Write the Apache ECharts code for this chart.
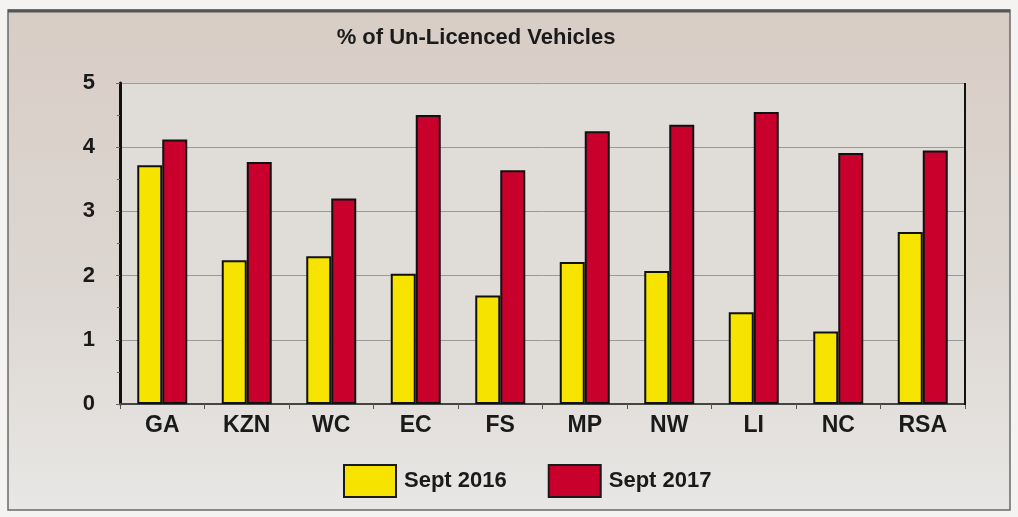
<!DOCTYPE html>
<html><head><meta charset="utf-8">
<script src="https://cdn.jsdelivr.net/npm/echarts@6/dist/echarts.min.js"></script>
<style>html,body{margin:0;padding:0;background:#f4f3f1;}#c{width:1018px;height:517px;}</style>
</head><body><div id="c"></div>
<script>
const categories = ['GA','KZN','WC','EC','FS','MP','NW','LI','NC','RSA'];
const sept2016 = [3.72, 2.24, 2.30, 2.03, 1.69, 2.21, 2.07, 1.43, 1.13, 2.68];
const sept2017 = [4.12, 3.77, 3.20, 4.50, 3.64, 4.25, 4.35, 4.55, 3.91, 3.95];
const yTicks = [0, 1, 2, 3, 4, 5];
const titleText = '% of Un-Licenced Vehicles';
const seriesNames = ['Sept 2016', 'Sept 2017'];

const chart = echarts.init(document.getElementById('c'), null, {renderer: 'canvas'});
const font = 'Liberation Sans, Arial, sans-serif';
chart.setOption({
  backgroundColor: 'transparent',
  animation: false,
  graphic: [
    {type: 'rect', z: -10, shape: {x: 8, y: 10, width: 1002, height: 500},
     style: {fill: new echarts.graphic.LinearGradient(0, 0, 0, 1, [
       {offset: 0, color: '#d8cdc5'}, {offset: 0.55, color: '#dcd6d1'}, {offset: 1, color: '#e8e7e5'}]),
       stroke: '#6a6a6a', lineWidth: 1.5}},
    {type: 'line', z: -9, shape: {x1: 8, y1: 11, x2: 1010, y2: 11}, style: {stroke: '#555', lineWidth: 3}},
    {type: 'rect', z: -8, shape: {x: 120, y: 83, width: 845, height: 321},
     style: {fill: '#e0dcd8'}},
    {type: 'line', z: 5, shape: {x1: 965, y1: 83, x2: 965, y2: 405}, style: {stroke: '#111', lineWidth: 2}}
  ],
  title: {text: titleText, left: 471, top: 22, textAlign: 'center',
    textStyle: {fontFamily: font, fontSize: 22, fontWeight: 'bold', color: '#1a1a1a'}},
  legend: {data: seriesNames, top: 464, left: 343, padding: 0, icon: 'rect', itemWidth: 52, itemHeight: 32, itemGap: 41,
    textStyle: {fontFamily: font, fontSize: 22, fontWeight: 'bold', color: '#1a1a1a', padding: [0,0,0,3]},
    itemStyle: {borderColor: '#1a1a1a', borderWidth: 2}},
  grid: {left: 120, right: 53, top: 83, bottom: 113},
  xAxis: {type: 'category', data: categories,
    axisLine: {lineStyle: {color: '#444', width: 2}},
    axisTick: {show: true, length: 5, lineStyle: {color: '#555'}},
    axisLabel: {fontFamily: font, fontSize: 23, fontWeight: 'bold', color: '#1a1a1a', margin: 10}},
  yAxis: {type: 'value', min: 0, max: 5, interval: 1,
    axisLine: {show: true, lineStyle: {color: '#111', width: 3}},
    axisTick: {show: true, inside: false, length: 4, lineStyle: {color: '#666'}},
    minorTick: {show: true, splitNumber: 2, length: 3, lineStyle: {color: '#666'}},
    splitLine: {show: true, lineStyle: {color: '#9a9a9a', width: 1}},
    axisLabel: {fontFamily: font, fontSize: 22, fontWeight: 'bold', color: '#1a1a1a', margin: 25,
      formatter: v => yTicks.includes(v) ? String(v) : ''}},
  series: [
    {name: seriesNames[0], type: 'bar', data: sept2016, barWidth: 25, barGap: '0%',
     itemStyle: {color: '#f6e400', borderColor: '#111', borderWidth: 2}},
    {name: seriesNames[1], type: 'bar', data: sept2017, barWidth: 25,
     itemStyle: {color: '#c9002c', borderColor: '#111', borderWidth: 2}}
  ]
});
</script></body></html>
